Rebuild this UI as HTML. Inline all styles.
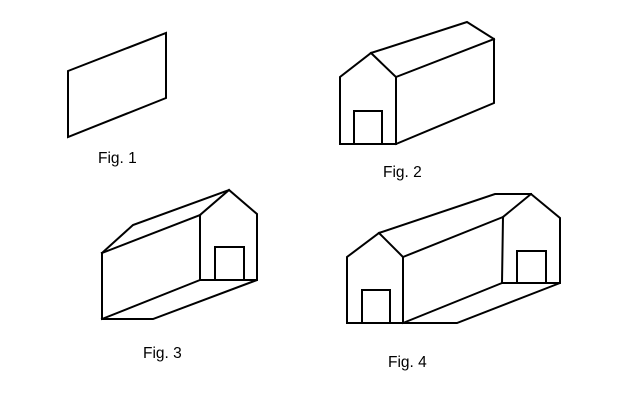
<!DOCTYPE html>
<html><head><meta charset="utf-8"><style>
html,body{margin:0;padding:0;background:#fff;}
svg{display:block;}
text{font-family:"Liberation Sans",Arial,sans-serif;font-size:15.5px;fill:#000;}
</style></head><body>
<svg width="640" height="400" viewBox="0 0 640 400" xmlns="http://www.w3.org/2000/svg">
<g fill="none" stroke="#000" stroke-width="2" stroke-linejoin="miter" stroke-linecap="square">
<!-- Fig 1 -->
<polygon points="68,71 166,33 166,98 68,137"/>
<!-- Fig 2 -->
<polyline points="340,144 340,77 371,53 396,77 396,144 340,144"/>
<rect x="354" y="111" width="28" height="33"/>
<polyline points="371,53 467,22 494,39 494,103 396,144"/>
<line x1="396" y1="77" x2="494" y2="39"/>
<!-- Fig 3 -->
<polyline points="102,253 102,319 153,319 257,280 257,214 229,190 200,215 200,280 257,280"/>
<rect x="215" y="247" width="29" height="33"/>
<polyline points="102,253 133,225 229,190"/>
<line x1="102" y1="253" x2="200" y2="215"/>
<line x1="102" y1="319" x2="200" y2="280"/>
<!-- Fig 4 -->
<polyline points="347,323 347,257 379,233 403,257 403,323 347,323"/>
<rect x="362" y="290" width="28" height="33"/>
<polyline points="403,323 457,323 560,283 560,218 531,194 503,217 502,283 560,283"/>
<rect x="517" y="251" width="29" height="32"/>
<polyline points="379,233 495,194 531,194"/>
<line x1="403" y1="257" x2="503" y2="217"/>
<line x1="403" y1="323" x2="502" y2="283"/>
</g>
<text x="98" y="163">Fig. 1</text>
<text x="383" y="177">Fig. 2</text>
<text x="143" y="358">Fig. 3</text>
<text x="388" y="367">Fig. 4</text>
</svg>
</body></html>
